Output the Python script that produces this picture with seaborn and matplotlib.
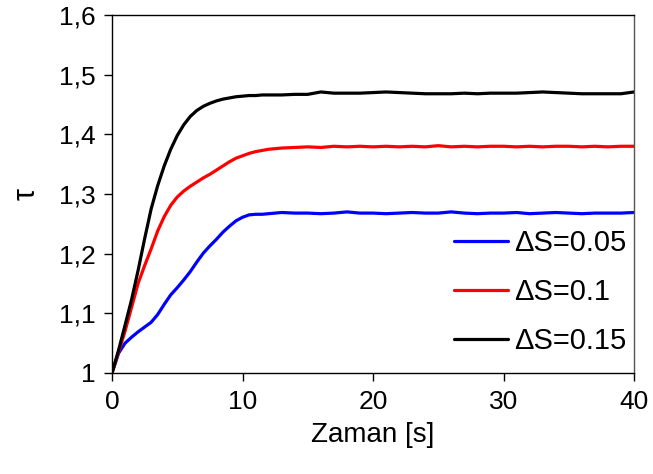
import matplotlib
matplotlib.use("Agg")
import matplotlib.pyplot as plt
from matplotlib.ticker import FuncFormatter
import pandas as pd
import seaborn as sns

# Time axis [s]: 0.5 s steps during the transient, 1 s steps on the plateau
time_s = [0.0, 0.5, 1.0, 1.5, 2.0, 2.5, 3.0, 3.5, 4.0, 4.5, 5.0, 5.5, 6.0,
          6.5, 7.0, 7.5, 8.0, 8.5, 9.0, 9.5, 10.0, 10.5, 11.0, 11.5, 12.0,
          13, 14, 15, 16, 17, 18, 19, 20, 21, 22, 23, 24, 25, 26, 27, 28,
          29, 30, 31, 32, 33, 34, 35, 36, 37, 38, 39, 40]

tau_005 = [1.000, 1.033, 1.050, 1.060, 1.069, 1.077, 1.085, 1.098, 1.115,
           1.131, 1.143, 1.156, 1.170, 1.186, 1.201, 1.213, 1.224, 1.236,
           1.246, 1.255, 1.261, 1.265, 1.266, 1.266, 1.267,
           1.269, 1.268, 1.268, 1.267, 1.268, 1.270, 1.268, 1.268, 1.267,
           1.268, 1.269, 1.268, 1.268, 1.270, 1.268, 1.267, 1.268, 1.268,
           1.269, 1.267, 1.268, 1.269, 1.268, 1.267, 1.268, 1.268, 1.268,
           1.269]

tau_010 = [1.000, 1.035, 1.070, 1.110, 1.150, 1.180, 1.208, 1.238, 1.262,
           1.281, 1.295, 1.305, 1.313, 1.320, 1.327, 1.333, 1.340, 1.347,
           1.354, 1.360, 1.364, 1.368, 1.371, 1.373, 1.375,
           1.377, 1.378, 1.379, 1.378, 1.380, 1.379, 1.380, 1.379, 1.380,
           1.379, 1.380, 1.379, 1.381, 1.379, 1.380, 1.379, 1.380, 1.380,
           1.379, 1.380, 1.379, 1.380, 1.380, 1.379, 1.380, 1.379, 1.380,
           1.380]

tau_015 = [1.000, 1.038, 1.080, 1.123, 1.172, 1.225, 1.275, 1.314, 1.347,
           1.375, 1.398, 1.416, 1.430, 1.440, 1.447, 1.452, 1.456, 1.459,
           1.461, 1.463, 1.464, 1.465, 1.465, 1.466, 1.466,
           1.466, 1.467, 1.467, 1.471, 1.469, 1.469, 1.469, 1.470, 1.471,
           1.470, 1.469, 1.468, 1.468, 1.468, 1.469, 1.468, 1.469, 1.469,
           1.469, 1.470, 1.471, 1.470, 1.469, 1.468, 1.468, 1.468, 1.468,
           1.471]

series_labels = ["ΔS=0.05", "ΔS=0.1", "ΔS=0.15"]
series_colors = ["#0000FF", "#FF0000", "#000000"]

y_ticks = [1.0, 1.1, 1.2, 1.3, 1.4, 1.5, 1.6]
x_ticks = [0, 10, 20, 30, 40]

df = pd.concat([
    pd.DataFrame({"t": time_s, "tau": vals, "series": lab})
    for vals, lab in zip([tau_005, tau_010, tau_015], series_labels)
], ignore_index=True)

sns.set_style("ticks")
plt.rcParams["font.family"] = ["Liberation Sans", "DejaVu Sans"]
plt.rcParams["text.color"] = "black"
plt.rcParams["axes.labelcolor"] = "black"

fig = plt.figure(figsize=(6.53, 4.74), dpi=100)
ax = fig.add_axes([112 / 653, 1 - 373 / 474, 522 / 653, 358 / 474])

sns.lineplot(data=df, x="t", y="tau", hue="series",
             palette=dict(zip(series_labels, series_colors)),
             hue_order=series_labels, linewidth=2.3, ax=ax, legend=True)

ax.set_xlim(0, 40)
ax.set_ylim(1.0, 1.6)
ax.set_xticks(x_ticks)
ax.set_yticks(y_ticks)


def comma_fmt(v, _pos):
    if abs(v - round(v)) < 1e-9:
        return f"{int(round(v))}"
    return f"{v:.1f}".replace(".", ",")


ax.yaxis.set_major_formatter(FuncFormatter(comma_fmt))
ax.tick_params(axis="both", direction="out", length=6, width=1,
               labelsize=19, colors="black", pad=6)

for side in ["top", "right", "left", "bottom"]:
    ax.spines[side].set_visible(True)
    ax.spines[side].set_color("black")
    ax.spines[side].set_linewidth(1.0)
ax.spines["right"].set_color("#555555")

ax.set_xlabel("Zaman [s]", fontsize=20, labelpad=6, color="black")
ax.set_ylabel("τ", fontsize=22, labelpad=12, color="black")

leg = ax.legend(loc="lower right", bbox_to_anchor=(0.985, 0.05),
                frameon=False, fontsize=21, handlelength=1.85,
                handletextpad=0.2, labelspacing=0.72, borderaxespad=0,
                borderpad=0)
for line in leg.get_lines():
    line.set_linewidth(2.3)
for txt in leg.get_texts():
    txt.set_color("black")

fig.savefig("out.png", dpi=100)
